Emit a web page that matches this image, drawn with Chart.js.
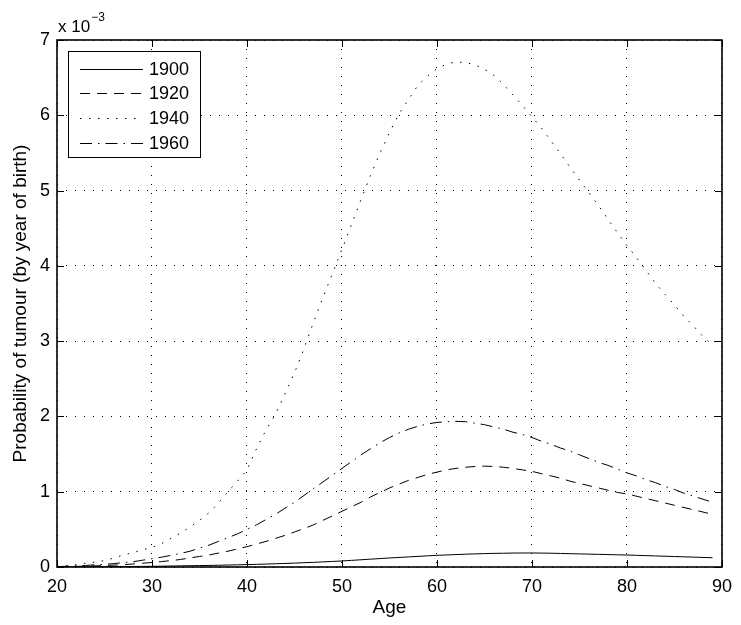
<!DOCTYPE html>
<html>
<head>
<meta charset="utf-8">
<title>Probability of tumour by year of birth</title>
<script src="https://cdn.jsdelivr.net/npm/chart.js@4.4.1/dist/chart.umd.min.js"></script>
<style>
  html, body { margin: 0; padding: 0; background: #fff; }
  #wrap { width: 741px; height: 625px; }
</style>
</head>
<body>
<div id="wrap"><canvas id="chart" width="741" height="625"></canvas></div>
<script>
// age in years
const ages = [20, 21, 22, 23, 24, 25, 26, 27, 28, 29,
              30, 31, 32, 33, 34, 35, 36, 37, 38, 39,
              40, 41, 42, 43, 44, 45, 46, 47, 48, 49,
              50, 51, 52, 53, 54, 55, 56, 57, 58, 59,
              60, 61, 62, 63, 64, 65, 66, 67, 68, 69,
              70, 71, 72, 73, 74, 75, 76, 77, 78, 79,
              80, 81, 82, 83, 84, 85, 86, 87, 88, 89];

// probabilities, in units of 1e-3
const p1900 = [0.001, 0.0015, 0.002, 0.0025, 0.003, 0.004, 0.005, 0.006, 0.007, 0.008,
               0.009, 0.011, 0.013, 0.015, 0.017, 0.019, 0.021, 0.023, 0.026, 0.029,
               0.032, 0.035, 0.039, 0.043, 0.047, 0.052, 0.057, 0.062, 0.068, 0.074,
               0.080, 0.088, 0.096, 0.104, 0.112, 0.120, 0.127, 0.134, 0.141, 0.148,
               0.155, 0.160, 0.165, 0.170, 0.174, 0.178, 0.181, 0.183, 0.185, 0.186,
               0.186, 0.185, 0.183, 0.180, 0.177, 0.174, 0.171, 0.168, 0.165, 0.162,
               0.159, 0.155, 0.151, 0.147, 0.143, 0.139, 0.135, 0.131, 0.127, 0.123];

const p1920 = [0.003, 0.005, 0.008, 0.011, 0.015, 0.020, 0.025, 0.032, 0.040, 0.050,
               0.060, 0.072, 0.085, 0.100, 0.120, 0.140, 0.160, 0.185, 0.210, 0.240,
               0.270, 0.305, 0.340, 0.380, 0.420, 0.465, 0.510, 0.560, 0.620, 0.680,
               0.740, 0.800, 0.860, 0.930, 0.990, 1.050, 1.100, 1.150, 1.190, 1.230,
               1.260, 1.290, 1.310, 1.325, 1.335, 1.340, 1.335, 1.325, 1.310, 1.290,
               1.270, 1.240, 1.210, 1.180, 1.140, 1.110, 1.080, 1.050, 1.020, 0.990,
               0.970, 0.940, 0.910, 0.880, 0.850, 0.820, 0.790, 0.760, 0.730, 0.700];

const p1940 = [0.010, 0.020, 0.030, 0.050, 0.065, 0.085, 0.120, 0.160, 0.190, 0.230,
               0.260, 0.310, 0.380, 0.450, 0.530, 0.620, 0.720, 0.850, 1.000, 1.140,
               1.290, 1.570, 1.820, 2.030, 2.300, 2.580, 2.900, 3.250, 3.580, 3.900,
               4.220, 4.550, 4.880, 5.200, 5.500, 5.770, 6.020, 6.210, 6.400, 6.520,
               6.620, 6.680, 6.710, 6.700, 6.670, 6.610, 6.530, 6.410, 6.270, 6.130,
               5.980, 5.830, 5.660, 5.490, 5.310, 5.140, 4.970, 4.800, 4.620, 4.440,
               4.270, 4.110, 3.940, 3.770, 3.620, 3.480, 3.330, 3.200, 3.060, 2.950];

const p1960 = [0.005, 0.010, 0.015, 0.020, 0.030, 0.035, 0.045, 0.060, 0.070, 0.090,
               0.110, 0.130, 0.155, 0.180, 0.210, 0.250, 0.290, 0.340, 0.390, 0.440,
               0.500, 0.560, 0.630, 0.700, 0.780, 0.860, 0.950, 1.040, 1.130, 1.220,
               1.310, 1.400, 1.490, 1.570, 1.650, 1.720, 1.780, 1.830, 1.870, 1.900,
               1.920, 1.930, 1.935, 1.930, 1.910, 1.890, 1.860, 1.830, 1.790, 1.760,
               1.720, 1.670, 1.630, 1.580, 1.540, 1.490, 1.440, 1.390, 1.350, 1.300,
               1.250, 1.210, 1.160, 1.120, 1.070, 1.030, 0.980, 0.940, 0.900, 0.860];

const seriesNames = ['1900', '1920', '1940', '1960'];
const seriesData = [p1900, p1920, p1940, p1960];
const seriesDash = [[], [10, 7], [1.5, 7.5], [12, 6, 1.5, 6]];

const xTicks = [20, 30, 40, 50, 60, 70, 80, 90];
const yTicks = [0, 1, 2, 3, 4, 5, 6, 7];

const FONT = "'Liberation Sans', Arial, Helvetica, sans-serif";
Chart.defaults.color = '#000';
Chart.defaults.font.family = FONT;

// inward tick marks, the axes box, the exponent and the legend
const frame = {
  id: 'frame',
  afterDraw(chart) {
    const ctx = chart.ctx;
    const a = chart.chartArea;
    const xs = chart.scales.x, ys = chart.scales.y;
    const L = Math.round(a.left), R = Math.round(a.right);
    const T = Math.round(a.top), B = Math.round(a.bottom);
    ctx.save();
    ctx.strokeStyle = '#000';
    ctx.lineWidth = 1;
    ctx.beginPath();
    xTicks.forEach(v => {
      const px = Math.round(xs.getPixelForValue(v)) + 0.5;
      ctx.moveTo(px, B); ctx.lineTo(px, B - 7);
      ctx.moveTo(px, T); ctx.lineTo(px, T + 7);
    });
    yTicks.forEach(v => {
      const py = Math.round(ys.getPixelForValue(v)) + 0.5;
      ctx.moveTo(L, py); ctx.lineTo(L + 7, py);
      ctx.moveTo(R, py); ctx.lineTo(R - 7, py);
    });
    ctx.stroke();

    ctx.lineWidth = 1.6;
    ctx.strokeRect(L, T, R - L, B - T);

    // axis exponent
    ctx.fillStyle = '#000';
    ctx.textBaseline = 'alphabetic';
    ctx.textAlign = 'left';
    ctx.font = '17px ' + FONT;
    ctx.fillText('x 10', 58, 32);
    const w = ctx.measureText('x 10').width;
    ctx.font = '12px ' + FONT;
    ctx.fillText('\u22123', 58 + w + 1, 21);

    // legend
    const bx = 68.5, by = 51.5, bw = 132, bh = 106;
    ctx.fillStyle = '#fff';
    ctx.fillRect(bx, by, bw, bh);
    ctx.lineWidth = 1;
    ctx.strokeRect(bx, by, bw, bh);
    ctx.font = '18px ' + FONT;
    ctx.textBaseline = 'middle';
    chart.data.datasets.forEach((ds, i) => {
      const yy = Math.round(by + 17 + i * 24.7) + 0.5;
      ctx.setLineDash(ds.borderDash);
      ctx.beginPath();
      ctx.moveTo(80, yy);
      ctx.lineTo(143, yy);
      ctx.stroke();
      ctx.setLineDash([]);
      ctx.fillStyle = '#000';
      ctx.fillText(ds.label, 149, yy + 1);
    });
    ctx.restore();
  }
};

const datasets = seriesNames.map((name, i) => ({
  label: name,
  data: ages.map((a, k) => ({ x: a, y: seriesData[i][k] })),
  borderColor: '#000',
  borderWidth: 1,
  borderDash: seriesDash[i],
  pointRadius: 0,
  tension: 0,
  fill: false
}));

new Chart(document.getElementById('chart'), {
  type: 'line',
  data: { datasets: datasets },
  options: {
    responsive: false,
    animation: false,
    devicePixelRatio: 1,
    layout: { padding: { left: 0, right: 13, top: 40, bottom: 0 } },
    plugins: { legend: { display: false }, tooltip: { enabled: false } },
    scales: {
      x: {
        type: 'linear',
        min: 20, max: 90,
        afterFit(s) { s.height = 58; },
        afterBuildTicks(s) { s.ticks = xTicks.map(v => ({ value: v })); },
        ticks: { padding: 9, font: { size: 18 }, maxRotation: 0 },
        grid: { color: '#000', lineWidth: 1, drawTicks: false },
        border: { display: false, dash: [1, 8] },
        title: { display: true, text: 'Age', font: { size: 19 }, padding: { top: 0, bottom: 6 } }
      },
      y: {
        type: 'linear',
        min: 0, max: 7,
        afterFit(s) { s.width = 57; },
        afterBuildTicks(s) { s.ticks = yTicks.map(v => ({ value: v })); },
        ticks: { padding: 7, font: { size: 18 } },
        grid: { color: '#000', lineWidth: 1, drawTicks: false },
        border: { display: false, dash: [1, 8] },
        title: { display: true, text: 'Probability of tumour (by year of birth)', font: { size: 19 }, padding: { top: 9, bottom: 0 } }
      }
    }
  },
  plugins: [frame]
});
</script>
</body>
</html>
